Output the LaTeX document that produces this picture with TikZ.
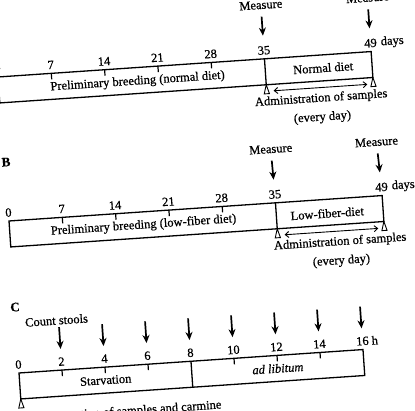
\documentclass[tikz,border=0pt]{standalone}
\usepackage{fontspec}
\setmainfont{Liberation Serif}[FakeBold=0.6]
\usetikzlibrary{arrows.meta, positioning, calc}

\begin{document}
\begin{tikzpicture}[
  x=1pt, y=-1pt,
  every node/.style={font=\fontsize{12.5}{15}\selectfont},
  panel/.style={font=\fontsize{13}{15}\selectfont\bfseries},
  twoline/.style={align=center, font=\fontsize{12.5}{19}\selectfont},
  bar/.style={draw, line width=1.3pt},
  tickmark/.style={line width=1.2pt},
  meas/.style={-{Stealth[length=8pt, width=7pt, inset=2.5pt]}, line width=1.7pt},
  span/.style={{Straight Barb[length=3.5pt, width=6pt]}-{Straight Barb[length=3.5pt, width=6pt]}, line width=0.9pt},
  apex/.pic={\draw[line width=0.9pt] (0,0) -- (-2.6,9) -- (2.6,9) -- cycle;}
]
  \useasboundingbox (0,0) rectangle (415,411);
  \clip (0,0) rectangle (415,411);

  % A: normal diet
  \begin{scope}[shift={(-2,77)}, rotate=3.9, transform shape]
    \node[panel] (labA) at (1,-59) {A};
    \draw[bar] (0,0) rectangle (374,26);
    \draw[bar] (267.1,0) -- (267.1,26);
    \foreach \d in {7,14,21,28}
      \draw[tickmark] (\d*7.633,0) -- (\d*7.633,6);
    \foreach \d in {0,7,14,21,28,35}
      \node (a\d) at (\d*7.633,-8.5) {\d};
    \node (a49) at (374,-8.5) {49};
    \node[right=-3pt of a49] (adays) {days};
    \node (ma35) at (267.1,-54) {Measure};
    \node (ma49) at (374,-54) {Measure};
    \draw[meas, shorten <=4pt, shorten >=7pt] (ma35) -- (a35);
    \draw[meas, shorten <=4pt, shorten >=7pt] (ma49) -- (a49);
    \node (apre) at (139,14) {Preliminary breeding (normal diet)};
    \node (adiet) at (325,13) {Normal diet};
    \coordinate (pa35) at (267.1,26);
    \coordinate (pa49) at (374,26);
    \pic at (pa35) {apex};
    \pic at (pa49) {apex};
    \draw[span] ($(pa35)+(7,6.5)$) -- ($(pa49)+(-6,6.5)$);
    \node[twoline] (aadm) at (321,53) {Administration of samples\\(every day)};
  \end{scope}

  % B: low-fiber diet
  \begin{scope}[shift={(9,221)}, rotate=3.9, transform shape]
    \node[panel] (labB) at (1,-59) {B};
    \draw[bar] (0,0) rectangle (374,26);
    \draw[bar] (267.1,0) -- (267.1,26);
    \foreach \d in {7,14,21,28}
      \draw[tickmark] (\d*7.633,0) -- (\d*7.633,6);
    \foreach \d in {0,7,14,21,28,35}
      \node (b\d) at (\d*7.633,-8.5) {\d};
    \node (b49) at (374,-8.5) {49};
    \node[right=-3pt of b49] (bdays) {days};
    \node (mb35) at (266,-54) {Measure};
    \node (mb49) at (372,-54) {Measure};
    \draw[meas, shorten <=4pt, shorten >=7pt] (mb35) -- (b35);
    \draw[meas, shorten <=4pt, shorten >=7pt] (mb49) -- (b49);
    \node (bpre) at (134,13.5) {Preliminary breeding (low-fiber diet)};
    \node (bdiet) at (318,14) {Low-fiber-diet};
    \coordinate (pb35) at (267.1,26);
    \coordinate (pb49) at (374,26);
    \pic at (pb35) {apex};
    \pic at (pb49) {apex};
    \draw[span] ($(pb35)+(7,6.5)$) -- ($(pb49)+(-6,6.5)$);
    \node[twoline] (badm) at (329,53) {Administration of samples\\(every day)};
  \end{scope}

  % C: stool count
  \begin{scope}[shift={(19,373)}, rotate=3.9, transform shape]
    \node[panel] (labC) at (0.5,-66) {C};
    \draw[bar] (0,0) rectangle (344.8,26);
    \draw[bar] (172.4,0) -- (172.4,26);
    \foreach \h in {2,4,6,10,12,14}
      \draw[tickmark] (\h*21.55,0) -- (\h*21.55,6);
    \foreach \h in {0,2,...,16}
      \node (c\h) at (\h*21.55,-8.5) {\h};
    \node[right=-4pt of c16] (chour) {h};
    \node (count) at (41,-50) {Count stools};
    \foreach \h in {2,4,...,16} {
      \coordinate (s\h) at (\h*21.55,-43);
      \draw[meas, shorten >=5pt] (s\h) -- (c\h);
    }
    \node (starve) at (86,13) {Starvation};
    \node (adlib) at (258.6,13) {\itshape ad libitum};
    \coordinate (pc0) at (0,26);
    \pic at (pc0) {apex};
    \node[anchor=west] (cadm) at (-1,46) {Administration of samples and carmine};
  \end{scope}
\end{tikzpicture}
\end{document}
